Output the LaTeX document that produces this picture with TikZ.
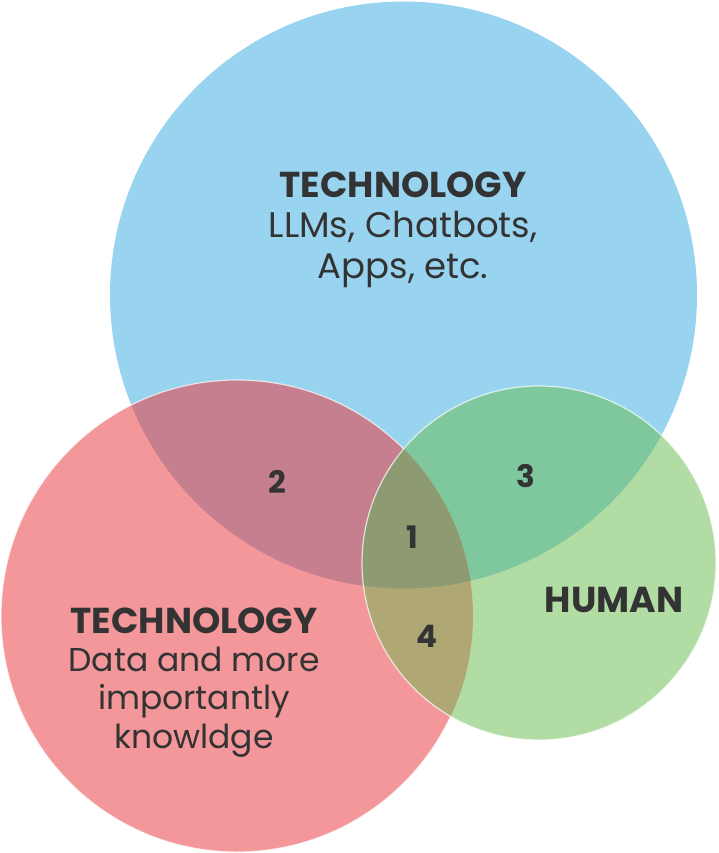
\documentclass[tikz,border=0pt]{standalone}
\usepackage{fontspec}
\setmainfont{Poppins}
\usepackage{tikz}
\usetikzlibrary{calc}

\definecolor{techblue}{HTML}{98D4F0}
\definecolor{techred}{HTML}{F4979B}
\definecolor{humangreen}{HTML}{B1DCA3}
\definecolor{blueRed}{HTML}{C57F8F}
\definecolor{blueGreen}{HTML}{7FC89D}
\definecolor{redGreen}{HTML}{AFA874}
\definecolor{allThree}{HTML}{8E9A72}
\definecolor{textgray}{HTML}{333333}

\begin{document}
\begin{tikzpicture}[x=1pt,y=-1pt]
\tikzset{
	title node/.style = {text=textgray, font=\fontsize{36}{40}\selectfont\bfseries, align=center},
	body node/.style = {text=textgray, font=\fontsize{35.5}{41}\selectfont, align=center},
	num node/.style = {text=textgray, font=\fontsize{31}{36}\selectfont\bfseries},
	rim/.style = {draw=white, line width=1.2pt, draw opacity=0.7},
}
\useasboundingbox (0,0) rectangle (718,853);

\coordinate (B) at (403.5,295);
\coordinate (R) at (237,616);
\coordinate (G) at (539,563);

\def\blue{(B) circle (293.5)}
\def\red{(R) circle (236)}
\def\green{(G) circle (177)}

\fill[techblue] \blue;
\fill[techred] \red;
\begin{scope} \clip \blue; \fill[blueRed] \red; \end{scope}
\draw[rim] \red;
\fill[humangreen] \green;
\begin{scope} \clip \blue; \fill[blueGreen] \green; \end{scope}
\begin{scope} \clip \red; \fill[redGreen] \green; \end{scope}
\begin{scope} \clip \blue; \clip \red; \fill[allThree] \green; \end{scope}
\draw[rim] \green;

\node(tech)[title node] at (403,185) {TECHNOLOGY};
\node(llm)[body node] at (403,249) {LLMs, Chatbots,\\Apps, etc.};

\node(tech2)[title node] at (194,621) {TECHNOLOGY};
\node(data)[body node, font=\fontsize{33}{38.5}\selectfont] at (194,702) {Data and more\\importantly\\knowldge};

\node(human)[title node] at (614,600) {HUMAN};

\foreach \n/\x/\y in {1/412/537, 2/277/482, 3/526/476, 4/427/636}
	\node(n\n)[num node] at (\x,\y) {\n};

\end{tikzpicture}
\end{document}
